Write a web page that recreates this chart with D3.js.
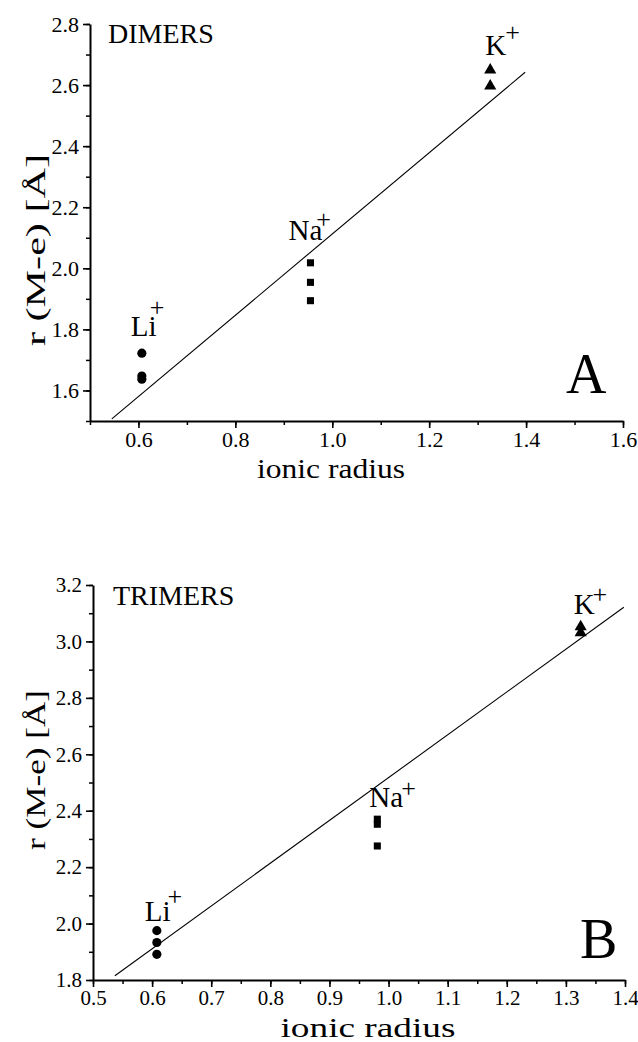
<!DOCTYPE html>
<html>
<head>
<meta charset="utf-8">
<script src="https://cdn.jsdelivr.net/npm/d3@7"></script>
<style>
    body { margin: 0; background: #fff; }
    svg { display: block; }
    svg text { font-family: "Liberation Serif", "Times New Roman", Times, serif !important; fill: #000; }
</style>
</head>
<body>
<div id="chart"></div>
<script>
// ions and their ionic radii
const ions = ['Li', 'Na', 'K'];
const dimerRadius = [0.607, 0.955, 1.326];
const trimerRadius = [0.608, 0.981, 1.325];

// r(M-e) values per ion
const dimerLi = [1.722, 1.647, 1.637];
const dimerNa = [2.018, 1.954, 1.894];
const dimerK = [2.649, 2.597];
const trimerLi = [1.975, 1.933, 1.891];
const trimerNa = [2.370, 2.352, 2.275];
const trimerK = [3.052, 3.031];

// end points of the fitted lines
const dimerFitX = [0.545, 1.398];
const dimerFitY = [1.507, 2.642];
const trimerFitX = [0.537, 1.398];
const trimerFitY = [1.815, 3.121];

// ticks
const dimerXTicks = [0.6, 0.8, 1.0, 1.2, 1.4, 1.6];
const dimerYTicks = [1.6, 1.8, 2.0, 2.2, 2.4, 2.6, 2.8];
const trimerXTicks = [0.5, 0.6, 0.7, 0.8, 0.9, 1.0, 1.1, 1.2, 1.3, 1.4];
const trimerYTicks = [1.8, 2.0, 2.2, 2.4, 2.6, 2.8, 3.0, 3.2];

const width = 638;
const height = 1042;
const serif = '"Liberation Serif", "Times New Roman", Times, serif';
const fmt = d3.format('.1f');

const svg = d3.select('#chart').append('svg')
    .attr('width', width)
    .attr('height', height)
    .attr('font-family', serif);

svg.append('rect').attr('width', width).attr('height', height).attr('fill', '#fff');

const panels = [
    {
        title: 'DIMERS', letter: 'A',
        xDomain: [0.5, 1.6], yDomain: [1.5, 2.8],
        xRange: [90, 623], yRange: [421, 24],
        xTicks: dimerXTicks, yTicks: dimerYTicks,
        xMinorStep: 0.1, yMinorStep: 0.1,
        radius: dimerRadius, values: [dimerLi, dimerNa, dimerK],
        fitX: dimerFitX, fitY: dimerFitY,
        // label offsets relative to the top marker of each ion, [dx, dy, plusDx, plusDy]
        labelOffsets: [[-11, -17, -7, -20], [-22, -23, -6, -12], [-5, -15, -1, -14]],
        titlePos: [108, 43], letterPos: [566, 393],
        xTitle: { x: 331, y: 478, len: 148 },
        yTitle: { x: 45, y: 250, len: 192 },
        tickFont: 22
    },
    {
        title: 'TRIMERS', letter: 'B',
        xDomain: [0.5, 1.4], yDomain: [1.8, 3.2],
        xRange: [93, 625], yRange: [980, 585],
        xTicks: trimerXTicks, yTicks: trimerYTicks,
        xMinorStep: 0.05, yMinorStep: 0.1,
        radius: trimerRadius, values: [trimerLi, trimerNa, trimerK],
        fitX: trimerFitX, fitY: trimerFitY,
        labelOffsets: [[-12, -10, -3, -16], [-8, -12, -2, -10], [-7, -13, -2, -11]],
        titlePos: [113, 605], letterPos: [580, 958],
        xTitle: { x: 368, y: 1037, len: 175 },
        yTitle: { x: 45, y: 770, len: 160 },
        tickFont: 21
    }
];

const symbols = [d3.symbolCircle, d3.symbolSquare, d3.symbolTriangle];
const symbolSizes = [66, 50, 64];

panels.forEach(p => {
    const x = d3.scaleLinear().domain(p.xDomain).range(p.xRange);
    const y = d3.scaleLinear().domain(p.yDomain).range(p.yRange);
    const g = svg.append('g');

    // minor ticks
    const xMinor = d3.range(p.xDomain[0], p.xDomain[1] + 1e-9, p.xMinorStep);
    const yMinor = d3.range(p.yDomain[0], p.yDomain[1] + 1e-9, p.yMinorStep);
    g.append('g')
        .attr('transform', `translate(0,${p.yRange[0]})`)
        .call(d3.axisBottom(x).tickValues(xMinor).tickSize(4).tickFormat(''))
        .call(a => a.select('.domain').remove())
        .selectAll('line').attr('stroke-width', 1.5);
    g.append('g')
        .attr('transform', `translate(${p.xRange[0]},0)`)
        .call(d3.axisLeft(y).tickValues(yMinor).tickSize(4).tickFormat(''))
        .call(a => a.select('.domain').remove())
        .selectAll('line').attr('stroke-width', 1.5);

    // major ticks and labels
    const xAxis = g.append('g')
        .attr('transform', `translate(0,${p.yRange[0]})`)
        .call(d3.axisBottom(x).tickValues(p.xTicks).tickSize(7).tickSizeOuter(0).tickPadding(3).tickFormat(fmt));
    const yAxis = g.append('g')
        .attr('transform', `translate(${p.xRange[0]},0)`)
        .call(d3.axisLeft(y).tickValues(p.yTicks).tickSize(7).tickSizeOuter(0).tickPadding(4).tickFormat(fmt));
    [xAxis, yAxis].forEach(a => {
        a.attr('font-family', serif).attr('font-size', p.tickFont);
        a.select('.domain').attr('stroke-width', 2);
        a.selectAll('line').attr('stroke-width', 1.6);
        a.selectAll('text')
            .attr('font-family', serif)
            .attr('fill', '#000');
    });

    // fitted line
    g.append('line')
        .attr('x1', x(p.fitX[0])).attr('y1', y(p.fitY[0]))
        .attr('x2', x(p.fitX[1])).attr('y2', y(p.fitY[1]))
        .attr('stroke', '#000')
        .attr('stroke-width', 1.1);

    // markers
    p.values.forEach((vals, i) => {
        g.selectAll(null)
            .data(vals)
            .enter().append('path')
            .attr('d', d3.symbol().type(symbols[i]).size(symbolSizes[i]))
            .attr('transform', d => `translate(${x(p.radius[i])},${y(d)})`)
            .attr('fill', '#000');

        const off = p.labelOffsets[i];
        const lbl = g.append('text')
            .attr('x', x(p.radius[i]) + off[0])
            .attr('y', y(d3.max(vals)) + off[1])
            .attr('font-size', 29);
        lbl.append('tspan').text(ions[i]);
        lbl.append('tspan')
            .attr('dx', off[2])
            .attr('dy', off[3])
            .attr('font-size', 26)
            .text('+');
    });

    // titles
    g.append('text')
        .attr('x', p.titlePos[0]).attr('y', p.titlePos[1])
        .attr('font-size', 28)
        .text(p.title);
    g.append('text')
        .attr('x', p.letterPos[0]).attr('y', p.letterPos[1])
        .attr('font-size', 56)
        .text(p.letter);

    g.append('text')
        .attr('x', p.xTitle.x)
        .attr('y', p.xTitle.y)
        .attr('text-anchor', 'middle')
        .attr('font-size', 28)
        .attr('textLength', p.xTitle.len)
        .attr('lengthAdjust', 'spacingAndGlyphs')
        .text('ionic radius');
    g.append('text')
        .attr('transform', `translate(${p.yTitle.x},${p.yTitle.y}) rotate(-90)`)
        .attr('text-anchor', 'middle')
        .attr('font-size', 28)
        .attr('textLength', p.yTitle.len)
        .attr('lengthAdjust', 'spacingAndGlyphs')
        .text('r (M-e) [Å]');
});
</script>
</body>
</html>
